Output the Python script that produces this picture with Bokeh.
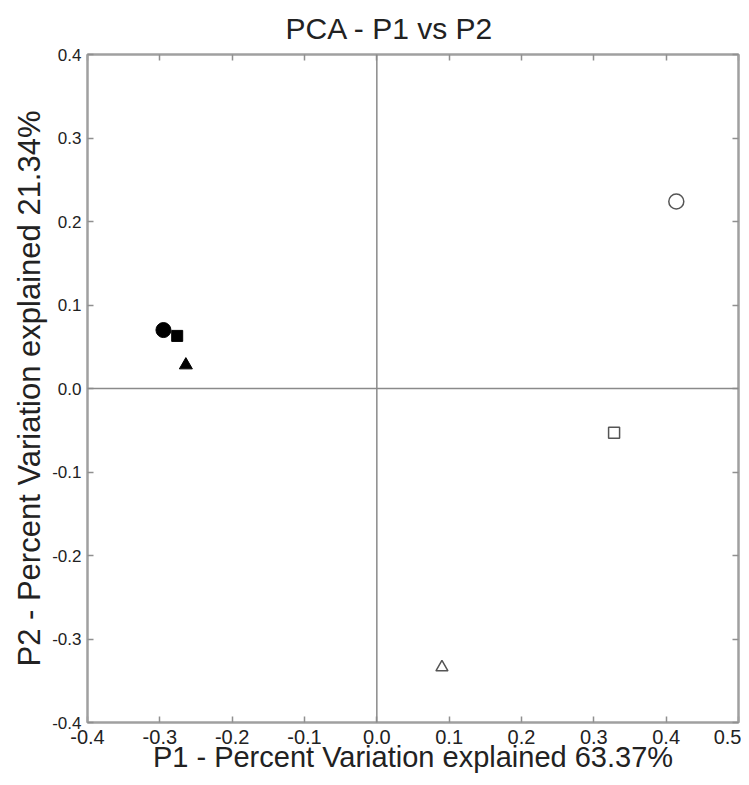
from bokeh.plotting import figure
from bokeh.models import (LinearAxis, Span, FixedTicker, Range1d,
                          PrintfTickFormatter)
from bokeh.embed import file_html
from bokeh.resources import INLINE

# ---- data ----
p1_filled = [-0.295, -0.276, -0.264]
p2_filled = [0.070, 0.063, 0.028]
p1_open = [0.414, 0.328, 0.090]
p2_open = [0.224, -0.053, -0.334]
marker_kinds = ["circle", "square", "triangle"]
marker_sizes = [15, 11, 13]
open_sizes = [15, 11, 12]

x_ticks = [-0.4, -0.3, -0.2, -0.1, 0.0, 0.1, 0.2, 0.3, 0.4, 0.5]
y_ticks = [-0.4, -0.3, -0.2, -0.1, 0.0, 0.1, 0.2, 0.3, 0.4]
x_min, x_max = -0.4, 0.5
y_min, y_max = -0.4, 0.4

title_text = "PCA - P1 vs P2"
x_label = "P1 - Percent Variation explained 63.37%"
y_label = "P2 - Percent Variation explained 21.34%"

FONT = "Liberation Sans"
AXIS_COLOR = "#a0a0a0"

p = figure(width=741, height=777,
           x_range=Range1d(x_min, x_max), y_range=Range1d(y_min, y_max),
           output_backend="svg", toolbar_location=None,
           min_border_left=87, min_border_right=3,
           min_border_top=52, min_border_bottom=55,
           x_axis_location=None, y_axis_location=None)

p.title.text = title_text
p.title.text_font = FONT
p.title.text_font_size = "30px"
p.title.text_font_style = "normal"
p.title.text_color = "#222222"
p.title.align = "left"
p.title.offset = 198
p.title.standoff = 19

p.xgrid.visible = False
p.ygrid.visible = False
p.outline_line_color = AXIS_COLOR
p.outline_line_width = 2
p.background_fill_color = "white"
p.border_fill_color = "white"


def style_axis(ax, ticks, show_labels):
    ax.ticker = FixedTicker(ticks=ticks)
    ax.formatter = PrintfTickFormatter(format="%.1f")
    ax.major_tick_in = 6
    ax.major_tick_out = 0
    ax.minor_tick_line_color = None
    ax.axis_line_color = AXIS_COLOR
    ax.axis_line_width = 2
    ax.major_tick_line_color = "#909090"
    ax.major_tick_line_width = 1.5
    if not show_labels:
        ax.major_label_text_color = None
        ax.major_label_text_font_size = "1px"
        ax.major_label_standoff = 0


xb = LinearAxis()
style_axis(xb, x_ticks, True)
xb.major_label_text_font = FONT
xb.major_label_text_font_size = "20px"
xb.major_label_text_color = "#222222"
xb.major_label_standoff = 7
xb.axis_label = x_label
xb.axis_label_text_font = FONT
xb.axis_label_text_font_size = "29px"
xb.axis_label_text_font_style = "normal"
xb.axis_label_text_color = "#222222"
xb.axis_label_standoff = -6
p.add_layout(xb, "below")

yl = LinearAxis()
style_axis(yl, y_ticks, True)
yl.major_label_text_font = FONT
yl.major_label_text_font_size = "17px"
yl.major_label_text_color = "#222222"
yl.major_label_standoff = 6
yl.axis_label = y_label
yl.axis_label_text_font = FONT
yl.axis_label_text_font_size = "31px"
yl.axis_label_text_font_style = "normal"
yl.axis_label_text_color = "#222222"
yl.axis_label_standoff = 2
p.add_layout(yl, "left")

xt = LinearAxis()
style_axis(xt, x_ticks, False)
p.add_layout(xt, "above")

yr = LinearAxis()
style_axis(yr, y_ticks, False)
p.add_layout(yr, "right")

# zero lines
p.add_layout(Span(location=0, dimension="height", line_color="#8a8a8a", line_width=1.5))
p.add_layout(Span(location=0, dimension="width", line_color="#8a8a8a", line_width=1.5))

for i, kind in enumerate(marker_kinds):
    p.scatter([p1_filled[i]], [p2_filled[i]], marker=kind, size=marker_sizes[i],
              fill_color="black", line_color="black")
    p.scatter([p1_open[i]], [p2_open[i]], marker=kind, size=open_sizes[i],
              fill_color="white", line_color="#555555", line_width=1.5)

open("out.html", "w").write(file_html(p, INLINE))
